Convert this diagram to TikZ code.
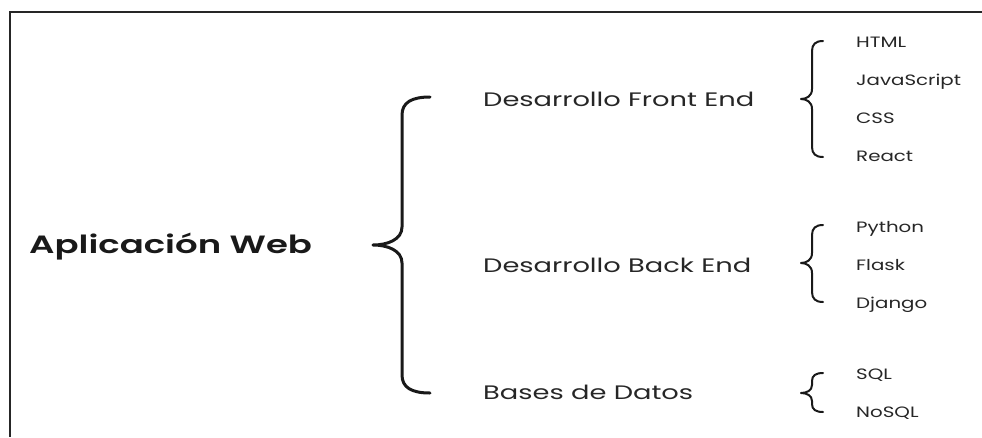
\documentclass[tikz,border=0pt]{standalone}
\usepackage{fontspec}
\setmainfont{Poppins}
\newfontfamily\rootfont{Poppins SemiBold}[FakeStretch=1.42]
\newfontfamily\areafont{Poppins}[FakeStretch=1.4]
\newfontfamily\techfont{Poppins}[FakeStretch=1.32]
\begin{document}
\begin{tikzpicture}[x=1pt,y=-1pt,
  frame/.style={line width=2pt,draw=black!85},
  bracestyle/.style={line width=#1,draw=black!90,line cap=round,line join=round},
  bracestyle/.default=2pt,
  root/.style={anchor=base west,inner sep=0pt,font=\rootfont\fontsize{25}{25}\selectfont,text=black!90},
  area/.style={anchor=base west,inner sep=0pt,font=\areafont\fontsize{19.5}{20}\selectfont,text=black!85},
  tech/.style={anchor=base west,inner sep=0pt,font=\techfont\fontsize{15}{16}\selectfont,text=black!85}]
% curly brace: #1 tip x, #2 stem x, #3 end x, #4 top y, #5 tip y, #6 bottom y, #7 curl, #8 width
\newcommand\curlybrace[8]{%
  \draw[bracestyle=#8] (#3,#4) .. controls (#2+0.35*#3-0.35*#2,#4) and (#2,#4+0.3*#7) .. (#2,#4+#7)
    -- (#2,#5-#7) .. controls (#2,#5-0.3*#7) and (#1+0.5*#2-0.5*#1,#5) .. (#1,#5)
    .. controls (#1+0.5*#2-0.5*#1,#5) and (#2,#5+0.3*#7) .. (#2,#5+#7)
    -- (#2,#6-#7) .. controls (#2,#6-0.3*#7) and (#2+0.35*#3-0.35*#2,#6) .. (#3,#6);}
\useasboundingbox (0,0) rectangle (982,437);
% frame along the top and left edges
\coordinate (fTR) at (982,12);
\coordinate (fTL) at (10,12);
\coordinate (fBL) at (10,437);
\draw[frame] (fTR) -- (fTL) -- (fBL);

% root
\node[root] (app) at (29,253) {Aplicación Web};
\curlybrace{373}{402}{430}{97}{245}{393}{18}{3pt}

% second level
\node[area] (front) at (483,106) {Desarrollo Front End};
\node[area] (back) at (483,272) {Desarrollo Back End};
\node[area] (data) at (483,399) {Bases de Datos};

% front end
\curlybrace{801}{812}{823}{41}{99}{157}{10}{2pt}
\node[tech] (html) at (856,47) {HTML};
\node[tech] (js) at (856,85) {JavaScript};
\node[tech] (css) at (856,123) {CSS};
\node[tech] (react) at (856,161) {React};

% back end
\curlybrace{801}{812}{823}{225}{263}{302}{10}{2pt}
\node[tech] (python) at (856,232) {Python};
\node[tech] (flask) at (856,270) {Flask};
\node[tech] (django) at (856,308) {Django};

% databases
\curlybrace{801}{812}{823}{373}{393}{412}{8}{2pt}
\node[tech] (sql) at (856,379) {SQL};
\node[tech] (nosql) at (856,417) {NoSQL};
\end{tikzpicture}
\end{document}
